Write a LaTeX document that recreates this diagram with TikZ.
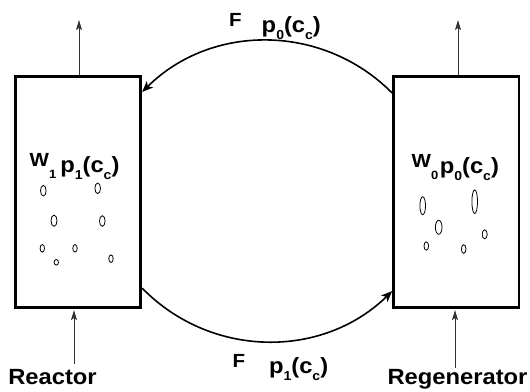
\documentclass[tikz,border=0pt]{standalone}
\usepackage{fontspec}
\setmainfont{Liberation Sans}[FakeStretch=1.08]
\usetikzlibrary{arrows.meta}
% lowered index: drop, size, text
\newcommand{\lowidx}[3]{\raisebox{-#1pt}{\fontsize{#2}{#2}\selectfont #3}}
\newcommand{\pgroup}[1]{\raisebox{-6pt}{\fontsize{22}{22}\selectfont p\lowidx{7}{13}{#1}(c\lowidx{7}{13}{c})}}
\begin{document}
\begin{tikzpicture}[x=1pt,y=-1pt,
  vessel/.style={draw,line width=2.8pt,minimum width=125.5pt,minimum height=231pt,inner sep=0pt},
  bigtxt/.style={font=\bfseries\fontsize{19}{21}\selectfont,inner sep=0pt,anchor=base west},
  nametxt/.style={font=\bfseries\fontsize{22}{24}\selectfont,inner sep=0pt,anchor=base},
  flow/.style={line width=1.6pt,-{Stealth[length=11pt,width=9pt,inset=3pt]}},
  gas/.style={line width=0.9pt,draw=black!80,-{Stealth[length=10pt,width=6pt,inset=2pt]}},
  bubble/.style={line width=0.8pt}]
  \useasboundingbox (0,0) rectangle (530,391);

  \node[vessel] (reactor) at (78,192.2) {};
  \node[vessel] (regen) at (456.3,192.2) {};
  \node[bigtxt] (rstate) at (29.5,166) {W\lowidx{12}{12}{1}\hspace{4pt}\pgroup{1}};
  \node[bigtxt] (gstate) at (411.5,167.5) {W\lowidx{12}{12}{0}\hspace{1.5pt}\pgroup{0}};
  \node[nametxt] (rname) at (52.5,384.3) {Reactor};
  \node[nametxt] (gname) at (457.5,384.3) {Regenerator};

  % circulation between the vessels
  \coordinate (gtop) at ([yshift=-17.7pt]regen.north west);
  \coordinate (rtop) at ([yshift=-16.7pt]reactor.north east);
  \coordinate (rbot) at ([yshift=21pt]reactor.south east);
  \coordinate (gbot) at ([yshift=18pt]regen.south west);
  \draw[flow] (gtop) to[bend right=45] (rtop);
  \draw[flow] (rbot) to[bend right=45] (gbot);
  \node[bigtxt] (topflow) at (229,26) {F\hspace{20pt}\pgroup{0}};
  \node[bigtxt] (botflow) at (232.3,367.7) {F\hspace{24pt}\pgroup{1}};

  % gas in and out
  \coordinate (rout) at ([xshift=1pt,yshift=55.3pt]reactor.north);
  \coordinate (gout) at ([xshift=1.7pt,yshift=55.3pt]regen.north);
  \coordinate (rin) at ([xshift=-4pt,yshift=-55pt]reactor.south);
  \coordinate (gin) at ([xshift=-1.3pt,yshift=-58.6pt]regen.south);
  \draw[gas] (rout |- reactor.north) -- (rout);
  \draw[gas] (gout |- regen.north) -- (gout);
  \draw[gas] (rin) -- ([yshift=-1pt]rin |- reactor.south);
  \draw[gas] (gin) -- ([yshift=-1pt]gin |- regen.south);

  % bubbles
  \foreach \x/\y/\a/\b in {43.3/190.7/2.8/5.3, 97.7/188.3/2.8/5.3, 54/220.7/3/5.6, 102.3/221/2.8/5.3,
      42.3/248.3/2.2/3.8, 56.3/262.3/2.2/2.8, 75/248.3/2.2/3.8, 111/258.7/2.2/3.8,
      422.7/205.7/2.8/9, 474.7/201.7/2.8/11.8, 438.7/227.3/3.3/7, 484.7/234.3/2.5/4.5,
      426.3/246/2.3/4.2, 463.7/249/2.3/4.3}
    \draw[bubble] (\x,\y) ellipse ({\a pt} and {\b pt});
\end{tikzpicture}
\end{document}
